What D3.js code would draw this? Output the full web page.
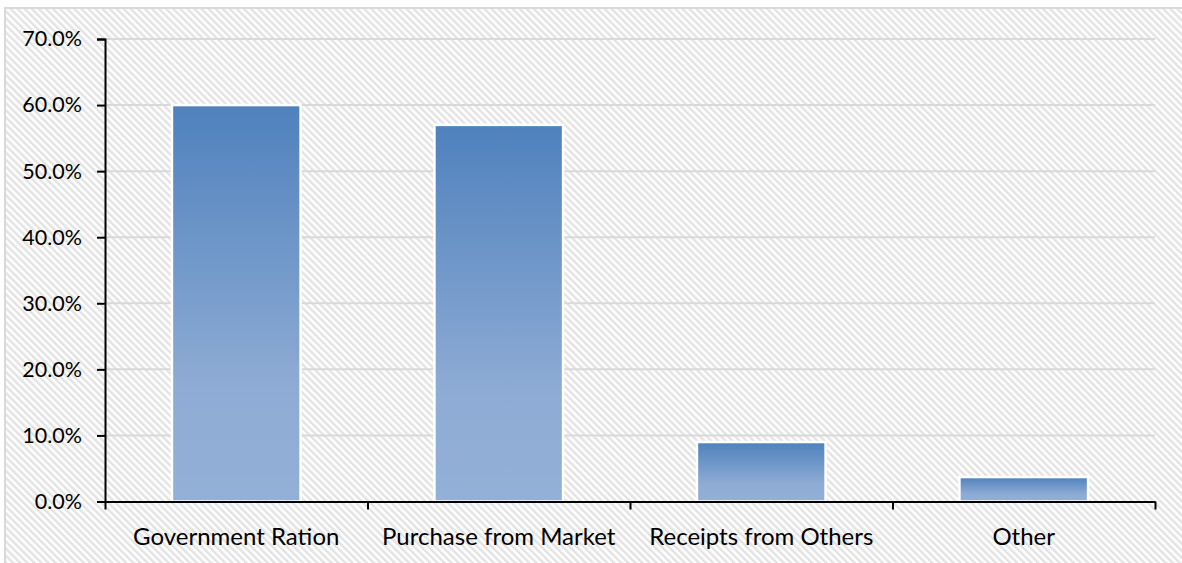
<!DOCTYPE html>
<html>
<head>
<meta charset="utf-8">
<script src="https://cdn.jsdelivr.net/npm/d3@7"></script>
<style>
  html, body { margin: 0; padding: 0; background: #ffffff; overflow: hidden; }
  svg { display: block; }
  text { font-family: Lato, "Open Sans", sans-serif; fill: #000; }
</style>
</head>
<body>
<svg id="chart" width="1182" height="563"></svg>
<script>
// Share of households by source of food grain
const categories = ["Government Ration", "Purchase from Market", "Receipts from Others", "Other"];
const shares = [60.0, 57.0, 9.0, 3.7];
const yTicks = [0, 10, 20, 30, 40, 50, 60, 70];

const W = 1182, H = 563;
const plot = { left: 105, right: 1155, top: 39, bottom: 501.5 };

const svg = d3.select("#chart");
const defs = svg.append("defs");

// light diagonal hatching of the chart area
const hatch = defs.append("pattern")
  .attr("id", "hatch")
  .attr("patternUnits", "userSpaceOnUse")
  .attr("width", 5).attr("height", 5)
  .attr("patternTransform", "rotate(-45)");
hatch.append("rect").attr("width", 5).attr("height", 5).attr("fill", "#ffffff");
hatch.append("rect").attr("width", 2.5).attr("height", 5).attr("fill", "#e3e3e3");

// vertical blue fade for the bars
const grad = defs.append("linearGradient")
  .attr("id", "barFill")
  .attr("x1", 0).attr("y1", 0).attr("x2", 0).attr("y2", 1);
grad.append("stop").attr("offset", "0%").attr("stop-color", "#4f81bd");
grad.append("stop").attr("offset", "70%").attr("stop-color", "#8dabd4");
grad.append("stop").attr("offset", "100%").attr("stop-color", "#93b1d7");

// chart area background and border
svg.append("rect")
  .attr("x", 5).attr("y", 8)
  .attr("width", W + 20).attr("height", H + 20)
  .attr("fill", "url(#hatch)")
  .attr("stroke", "#d9d9d9").attr("stroke-width", 2);

const y = d3.scaleLinear().domain([0, 70]).range([plot.bottom, plot.top]);
const x = d3.scaleBand()
  .domain(categories)
  .range([plot.left, plot.right])
  .paddingInner(0.51)
  .paddingOuter(0.255);
const xEdge = d3.scaleLinear().domain([0, categories.length]).range([plot.left, plot.right]);

// horizontal gridlines
svg.append("g")
  .selectAll("line")
  .data(yTicks.slice(1))
  .join("line")
  .attr("x1", plot.left).attr("x2", plot.right)
  .attr("y1", d => y(d)).attr("y2", d => y(d))
  .attr("stroke", "#d9d9d9").attr("stroke-width", 2);

// bars
svg.append("g")
  .selectAll("rect")
  .data(categories.map((c, i) => ({ c, v: shares[i] })))
  .join("rect")
  .attr("x", d => x(d.c))
  .attr("y", d => y(d.v))
  .attr("width", x.bandwidth())
  .attr("height", d => y(0) - y(d.v))
  .attr("fill", "url(#barFill)")
  .attr("stroke", "#ffffff")
  .attr("stroke-width", 2.5);

// y axis
const yAxis = svg.append("g")
  .attr("transform", `translate(${plot.left},0)`)
  .call(d3.axisLeft(y).tickValues(yTicks).tickSize(8).tickPadding(15)
    .tickFormat(d => d.toFixed(1) + "%"));
yAxis.select(".domain").attr("stroke", "#000").attr("stroke-width", 2);
yAxis.selectAll(".tick line").attr("stroke", "#000").attr("stroke-width", 2);
yAxis.selectAll("text").style("font-size", "21.5px").attr("fill", "#000");

// x axis with ticks at category boundaries
const xAxis = svg.append("g")
  .attr("transform", `translate(0,${plot.bottom})`)
  .call(d3.axisBottom(xEdge).tickValues(d3.range(categories.length + 1))
    .tickSize(8).tickSizeOuter(0).tickFormat(""));
xAxis.select(".domain").attr("stroke", "#000").attr("stroke-width", 2);
xAxis.selectAll(".tick line").attr("stroke", "#000").attr("stroke-width", 2);

svg.append("g")
  .selectAll("text")
  .data(categories)
  .join("text")
  .attr("x", d => x(d) + x.bandwidth() / 2)
  .attr("y", plot.bottom + 43)
  .attr("text-anchor", "middle")
  .style("font-size", "24px")
  .text(d => d);
</script>
</body>
</html>
